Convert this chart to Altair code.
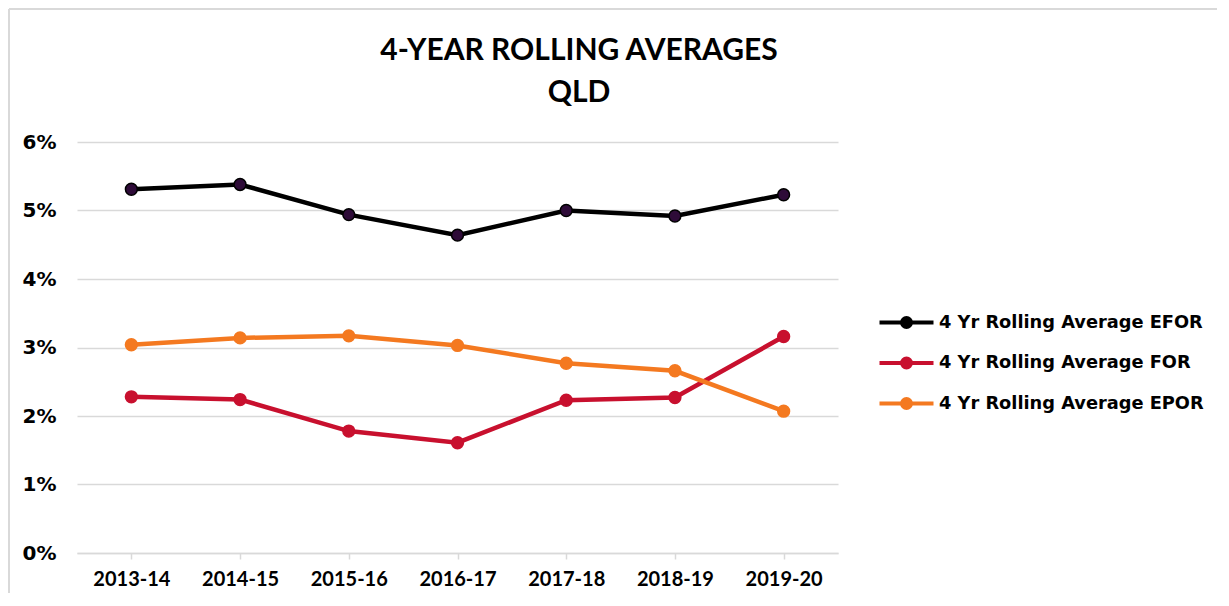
import altair as alt
import pandas as pd

years = ["2013-14", "2014-15", "2015-16", "2016-17", "2017-18", "2018-19", "2019-20"]
series_names = ["4 Yr Rolling Average EFOR", "4 Yr Rolling Average FOR", "4 Yr Rolling Average EPOR"]
efor = [5.31, 5.38, 4.94, 4.64, 5.00, 4.92, 5.23]
for_ = [2.28, 2.24, 1.78, 1.61, 2.23, 2.27, 3.16]
epor = [3.04, 3.14, 3.17, 3.03, 2.77, 2.66, 2.07]
line_colors = ["#000000", "#C8102E", "#F47920"]
marker_fills = ["#2E0B38", "#C8102E", "#F47920"]
title_lines = ["4-YEAR ROLLING AVERAGES", "QLD"]

rows = []
for name, vals in zip(series_names, [efor, for_, epor]):
    for y, v in zip(years, vals):
        rows.append({"year": y, "series": name, "value": v / 100.0})
df = pd.DataFrame(rows)

FONT = "Lato"
WIDE = "DejaVu Sans"
legend_path = ("M-2,0L2,0"
               "M-0.333,0A0.333,0.333,0,1,1,0.333,0A0.333,0.333,0,1,1,-0.333,0"
               "M-0.093,0A0.093,0.093,0,1,1,0.093,0A0.093,0.093,0,1,1,-0.093,0")

x_enc = alt.X("year:N", sort=years, scale=alt.Scale(type="point", padding=0.5),
              axis=alt.Axis(title=None, labelAngle=0, labelFontSize=20, labelFontWeight="bold",
                            labelColor="#000000", labelFont=FONT, labelPadding=10,
                            domainColor="#d9d9d9", domainWidth=1.5, tickColor="#d9d9d9",
                            tickWidth=1.5, tickSize=6, grid=False))
y_enc = alt.Y("value:Q", scale=alt.Scale(domain=[0, 0.06]),
              axis=alt.Axis(title=None, format=".0%", values=[0, 0.01, 0.02, 0.03, 0.04, 0.05, 0.06],
                            labelFontSize=20, labelFontWeight="bold", labelColor="#000000",
                            labelFont=WIDE, labelPadding=21, ticks=False, domain=False,
                            gridColor="#d9d9d9", gridWidth=1.5))

base = alt.Chart(df)

lines = base.mark_line(strokeWidth=4.5).encode(
    x=x_enc, y=y_enc,
    color=alt.Color("series:N", scale=alt.Scale(domain=series_names, range=line_colors),
                    legend=alt.Legend(title=None, orient="none", legendX=814, legendY=165,
                                      symbolType=legend_path, symbolSize=729, symbolStrokeWidth=4,
                                      symbolOpacity=1,
                                      labelFontSize=17.8, labelFontWeight="bold", labelFont=WIDE,
                                      labelColor="#000000", labelOffset=17, rowPadding=12.5,
                                      labelLimit=400)),
)

points = base.mark_point(filled=True, size=140, strokeWidth=1.5, opacity=1).encode(
    x=alt.X("year:N", sort=years),
    y="value:Q",
    fill=alt.Fill("series:N", scale=alt.Scale(domain=series_names, range=marker_fills), legend=None),
    stroke=alt.Stroke("series:N", scale=alt.Scale(domain=series_names, range=line_colors), legend=None),
)

frame_left = alt.Chart(df).mark_rule(color="#d9d9d9", strokeWidth=1.5).encode(
    x=alt.value(-68), y=alt.value(-133), y2=alt.value(520))
frame_top = alt.Chart(df).mark_rule(color="#d9d9d9", strokeWidth=1.5).encode(
    x=alt.value(-68), x2=alt.value(1140), y=alt.value(-133))

title_df = pd.DataFrame({"line": title_lines, "row": [0, 1]})
title1 = alt.Chart(title_df).transform_filter("datum.row == 0").mark_text(
    font=FONT, fontSize=30, fontWeight="bold", color="#000000", align="center", baseline="alphabetic"
).encode(text="line:N", x=alt.value(502), y=alt.value(-82))
title2 = alt.Chart(title_df).transform_filter("datum.row == 1").mark_text(
    font=FONT, fontSize=30, fontWeight="bold", color="#000000", align="center", baseline="alphabetic"
).encode(text="line:N", x=alt.value(502), y=alt.value(-40))

chart = alt.layer(frame_left, frame_top, title1, title2, lines, points).resolve_scale(
    fill="independent", stroke="independent"
).properties(
    width=761, height=411,
    autosize=alt.AutoSizeParams(type="none"),
    padding={"left": 69, "top": 134, "right": 380, "bottom": 40},
).configure(background="white").configure_view(stroke=None)

chart.save("out.html", embed_options={"renderer": "svg", "actions": False})
